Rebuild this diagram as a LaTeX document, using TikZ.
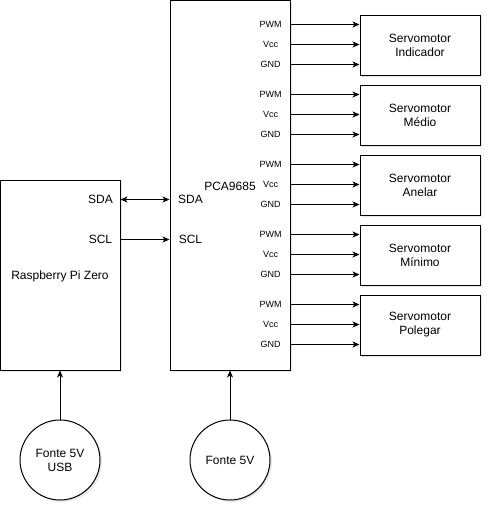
\documentclass[tikz,border=0pt]{standalone}
\usepackage{fontspec}
\setmainfont{Liberation Sans}
\usetikzlibrary{arrows.meta,calc,shadows}
\begin{document}
\begin{tikzpicture}[x=1pt,y=-1pt,
  shad/.style={drop shadow={shadow xshift=2pt,shadow yshift=-2pt,opacity=0.18,fill=gray}},
  box/.style={draw,line width=1pt,fill=white,inner sep=0pt,minimum width=120pt,shad},
  circ/.style={draw,circle,line width=1pt,fill=white,inner sep=0pt,minimum size=80pt,shad,
    align=center,font=\fontsize{12}{14}\selectfont},
  lbl/.style={font=\fontsize{12}{14}\selectfont,align=center,inner sep=0pt},
  port/.style={font=\fontsize{9}{11}\selectfont,inner sep=0pt},
  arr/.style={line width=1pt,-{Stealth[length=7pt,width=6pt,inset=2pt]}},
  barr/.style={line width=1pt,{Stealth[length=7pt,width=6pt,inset=2pt]}-{Stealth[length=7pt,width=6pt,inset=2pt]}}]
\useasboundingbox (0,0) rectangle (492,512);
% main boxes
\node[box,minimum height=370pt] (pca) at (230,185) {};
\node[box,minimum height=190pt] (pi) at (60,275) {};
\node[lbl] (pcal) at (230,186) {PCA9685};
\node[lbl] (pil) at (60,276) {Raspberry Pi Zero};
% servos
\foreach \k/\name in {0/Indicador,1/Médio,2/Anelar,3/Mínimo,4/Polegar}{
  \node[box,minimum height=60pt] (s\k) at (420,{45+70*\k}) {};
  \node[lbl] (s\k l) at (s\k) {Servomotor\\\name};
  \foreach \j/\t in {0/PWM,1/Vcc,2/GND}{
    \coordinate (p\k\j) at ($(s\k.north west)+(0,{10+20*\j})$);
    \draw[arr] (pca.east |- p\k\j) -- (p\k\j);
    \node[port] (t\k\j) at ($(pca.east |- p\k\j)+(-20,0)$) {\t};
  }
}
% I2C
\coordinate (sda) at ($(pi.north east)+(0,20)$);
\coordinate (scl) at ($(pi.north east)+(0,60)$);
\draw[barr] (sda) -- (pca.west |- sda);
\draw[arr] (scl) -- (pca.west |- scl);
\node[lbl] (sdal) at ($(sda)+(-20,0)$) {SDA};
\node[lbl] (scll) at ($(scl)+(-20,0)$) {SCL};
\node[lbl] (sdar) at ($(pca.west |- sda)+(21,0)$) {SDA};
\node[lbl] (sclr) at ($(pca.west |- scl)+(21,0)$) {SCL};
% power
\node[circ] (f1) at (60,460) {Fonte 5V\\USB};
\node[circ] (f2) at (230,460) {Fonte 5V};
\draw[arr] (f1.north) -- (pi.south);
\draw[arr] (f2.north) -- (pca.south);
\end{tikzpicture}
\end{document}
